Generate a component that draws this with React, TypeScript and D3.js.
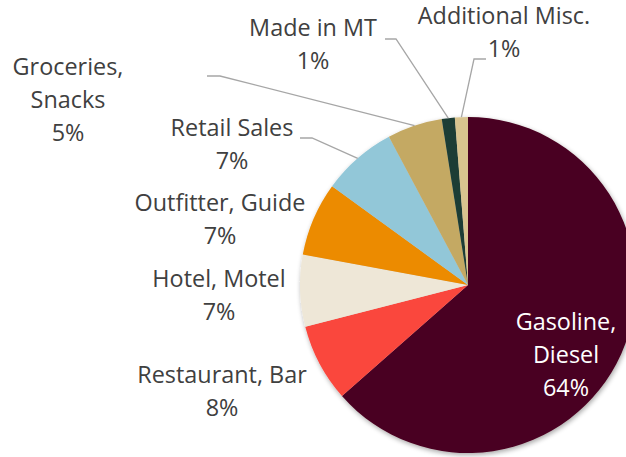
import React from "react";
import * as d3 from "d3";

const categories = [
  "Gasoline, Diesel",
  "Restaurant, Bar",
  "Hotel, Motel",
  "Outfitter, Guide",
  "Retail Sales",
  "Groceries, Snacks",
  "Made in MT",
  "Additional Misc.",
];
const values = [63.5, 7.5, 6.9, 7.1, 7.2, 5.3, 1.25, 1.25];
const labelLines = [
  ["Gasoline,", "Diesel", "64%"],
  ["Restaurant, Bar", "8%"],
  ["Hotel, Motel", "7%"],
  ["Outfitter, Guide", "7%"],
  ["Retail Sales", "7%"],
  ["Groceries,", "Snacks", "5%"],
  ["Made in MT", "1%"],
  ["Additional Misc.", "1%"],
];
const colors = [
  "#4a0020",
  "#fa463c",
  "#eee7d7",
  "#ec8b00",
  "#92c7d8",
  "#c4a964",
  "#1e3e34",
  "#d8c48f",
];

// layout: label centre x, first baseline y; leader elbow points
const labelLayout = [
  { x: 566, y: 330, fill: "#ffffff" },
  { x: 222, y: 383, fill: "#404040" },
  { x: 219, y: 287, fill: "#404040" },
  { x: 220, y: 211, fill: "#404040" },
  { x: 232, y: 136, fill: "#404040" },
  { x: 68, y: 75, fill: "#404040" },
  { x: 313, y: 36, fill: "#404040" },
  { x: 504, y: 24, fill: "#404040" },
];
const leaders: (null | [number, number][])[] = [
  null,
  null,
  null,
  null,
  [[300, 138], [312, 138]],
  [[207, 76], [220, 76]],
  [[385, 39], [396, 39]],
  [[486, 59], [474, 59]],
];

const W = 626;
const H = 457;
const cx = 468;
const cy = 285;
const R = 168;
const lineGap = 33;

export default function App() {
  const pie = d3
    .pie<number>()
    .sort(null)
    .value((d) => d)
    .startAngle(0)
    .endAngle(2 * Math.PI);
  const arcs = pie(values);
  const arc = d3.arc<d3.PieArcDatum<number>>().innerRadius(0).outerRadius(R);

  return (
    <svg
      width={W}
      height={H}
      style={{ position: "absolute", left: 0, top: 0, background: "#fff" }}
    >
      <defs>
        <filter id="sh" x="-20%" y="-20%" width="140%" height="140%">
          <feGaussianBlur in="SourceAlpha" stdDeviation="2.5" />
          <feOffset dx="1" dy="2" result="b" />
          <feComponentTransfer>
            <feFuncA type="linear" slope="0.35" />
          </feComponentTransfer>
          <feMerge>
            <feMergeNode />
            <feMergeNode in="SourceGraphic" />
          </feMerge>
        </filter>
      </defs>
      <g transform={`translate(${cx},${cy})`} filter="url(#sh)">
        {arcs.map((a, i) => (
          <path key={categories[i]} d={arc(a) || ""} fill={colors[i]} />
        ))}
      </g>
      {arcs.map((a, i) => {
        const pts = leaders[i];
        if (!pts) return null;
        const mid = (a.startAngle + a.endAngle) / 2;
        const ex = cx + R * Math.sin(mid);
        const ey = cy - R * Math.cos(mid);
        const all = [...pts, [ex, ey]] as [number, number][];
        return (
          <polyline
            key={"l" + i}
            points={all.map((p) => p.join(",")).join(" ")}
            fill="none"
            stroke="#a6a6a6"
            strokeWidth={1.3}
          />
        );
      })}
      {labelLines.map((lines, i) => (
        <text
          key={"t" + i}
          x={labelLayout[i].x}
          y={labelLayout[i].y}
          textAnchor="middle"
          fill={labelLayout[i].fill}
          fontFamily="'Open Sans', sans-serif"
          fontSize={23.4}
        >
          {lines.map((ln, j) => (
            <tspan key={j} x={labelLayout[i].x} y={labelLayout[i].y + j * lineGap}>
              {ln}
            </tspan>
          ))}
        </text>
      ))}
    </svg>
  );
}
